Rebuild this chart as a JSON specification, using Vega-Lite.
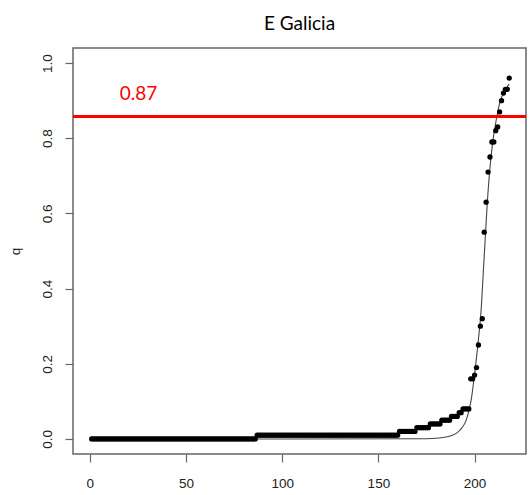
{
 "$schema": "https://vega.github.io/schema/vega-lite/v6.json",
 "width": 453, "height": 406,
 "autosize": {"type": "none"},
 "padding": {"left": 73, "top": 48, "right": 6, "bottom": 41},
 "background": "white",
 "title": {"text": "E Galicia", "font": "Lato", "fontSize": 19, "fontWeight": "normal", "color": "#000", "anchor": "middle", "baseline": "alphabetic", "offset": 20, "dy": 21},
 "config": {
  "view": {"stroke": "#666", "strokeWidth": 1.5},
  "axis": {"grid": false, "domain": false, "tickColor": "#666", "tickWidth": 1.2, "tickSize": 8, "labelFont": "Liberation Sans", "labelFontSize": 13.5, "labelColor": "#222", "titleFont": "Liberation Sans", "titleFontSize": 13.5, "titleFontWeight": "normal", "titleColor": "#222"}
 },
 "datasets": {
  "pts": [
   {"x":1,"q":0},{"x":2,"q":0},{"x":3,"q":0},{"x":4,"q":0},{"x":5,"q":0},{"x":6,"q":0},{"x":7,"q":0},{"x":8,"q":0},{"x":9,"q":0},{"x":10,"q":0},
   {"x":11,"q":0},{"x":12,"q":0},{"x":13,"q":0},{"x":14,"q":0},{"x":15,"q":0},{"x":16,"q":0},{"x":17,"q":0},{"x":18,"q":0},{"x":19,"q":0},{"x":20,"q":0},
   {"x":21,"q":0},{"x":22,"q":0},{"x":23,"q":0},{"x":24,"q":0},{"x":25,"q":0},{"x":26,"q":0},{"x":27,"q":0},{"x":28,"q":0},{"x":29,"q":0},{"x":30,"q":0},
   {"x":31,"q":0},{"x":32,"q":0},{"x":33,"q":0},{"x":34,"q":0},{"x":35,"q":0},{"x":36,"q":0},{"x":37,"q":0},{"x":38,"q":0},{"x":39,"q":0},{"x":40,"q":0},
   {"x":41,"q":0},{"x":42,"q":0},{"x":43,"q":0},{"x":44,"q":0},{"x":45,"q":0},{"x":46,"q":0},{"x":47,"q":0},{"x":48,"q":0},{"x":49,"q":0},{"x":50,"q":0},
   {"x":51,"q":0},{"x":52,"q":0},{"x":53,"q":0},{"x":54,"q":0},{"x":55,"q":0},{"x":56,"q":0},{"x":57,"q":0},{"x":58,"q":0},{"x":59,"q":0},{"x":60,"q":0},
   {"x":61,"q":0},{"x":62,"q":0},{"x":63,"q":0},{"x":64,"q":0},{"x":65,"q":0},{"x":66,"q":0},{"x":67,"q":0},{"x":68,"q":0},{"x":69,"q":0},{"x":70,"q":0},
   {"x":71,"q":0},{"x":72,"q":0},{"x":73,"q":0},{"x":74,"q":0},{"x":75,"q":0},{"x":76,"q":0},{"x":77,"q":0},{"x":78,"q":0},{"x":79,"q":0},{"x":80,"q":0},
   {"x":81,"q":0},{"x":82,"q":0},{"x":83,"q":0},{"x":84,"q":0},{"x":85,"q":0},{"x":86,"q":0},{"x":87,"q":0.01},{"x":88,"q":0.01},{"x":89,"q":0.01},{"x":90,"q":0.01},
   {"x":91,"q":0.01},{"x":92,"q":0.01},{"x":93,"q":0.01},{"x":94,"q":0.01},{"x":95,"q":0.01},{"x":96,"q":0.01},{"x":97,"q":0.01},{"x":98,"q":0.01},{"x":99,"q":0.01},{"x":100,"q":0.01},
   {"x":101,"q":0.01},{"x":102,"q":0.01},{"x":103,"q":0.01},{"x":104,"q":0.01},{"x":105,"q":0.01},{"x":106,"q":0.01},{"x":107,"q":0.01},{"x":108,"q":0.01},{"x":109,"q":0.01},{"x":110,"q":0.01},
   {"x":111,"q":0.01},{"x":112,"q":0.01},{"x":113,"q":0.01},{"x":114,"q":0.01},{"x":115,"q":0.01},{"x":116,"q":0.01},{"x":117,"q":0.01},{"x":118,"q":0.01},{"x":119,"q":0.01},{"x":120,"q":0.01},
   {"x":121,"q":0.01},{"x":122,"q":0.01},{"x":123,"q":0.01},{"x":124,"q":0.01},{"x":125,"q":0.01},{"x":126,"q":0.01},{"x":127,"q":0.01},{"x":128,"q":0.01},{"x":129,"q":0.01},{"x":130,"q":0.01},
   {"x":131,"q":0.01},{"x":132,"q":0.01},{"x":133,"q":0.01},{"x":134,"q":0.01},{"x":135,"q":0.01},{"x":136,"q":0.01},{"x":137,"q":0.01},{"x":138,"q":0.01},{"x":139,"q":0.01},{"x":140,"q":0.01},
   {"x":141,"q":0.01},{"x":142,"q":0.01},{"x":143,"q":0.01},{"x":144,"q":0.01},{"x":145,"q":0.01},{"x":146,"q":0.01},{"x":147,"q":0.01},{"x":148,"q":0.01},{"x":149,"q":0.01},{"x":150,"q":0.01},
   {"x":151,"q":0.01},{"x":152,"q":0.01},{"x":153,"q":0.01},{"x":154,"q":0.01},{"x":155,"q":0.01},{"x":156,"q":0.01},{"x":157,"q":0.01},{"x":158,"q":0.01},{"x":159,"q":0.01},{"x":160,"q":0.01},
   {"x":161,"q":0.02},{"x":162,"q":0.02},{"x":163,"q":0.02},{"x":164,"q":0.02},{"x":165,"q":0.02},{"x":166,"q":0.02},{"x":167,"q":0.02},{"x":168,"q":0.02},{"x":169,"q":0.02},
   {"x":170,"q":0.03},{"x":171,"q":0.03},{"x":172,"q":0.03},{"x":173,"q":0.03},{"x":174,"q":0.03},{"x":175,"q":0.03},{"x":176,"q":0.03},
   {"x":177,"q":0.04},{"x":178,"q":0.04},{"x":179,"q":0.04},{"x":180,"q":0.04},{"x":181,"q":0.04},{"x":182,"q":0.04},
   {"x":183,"q":0.05},{"x":184,"q":0.05},{"x":185,"q":0.05},{"x":186,"q":0.05},{"x":187,"q":0.05},
   {"x":188,"q":0.06},{"x":189,"q":0.06},{"x":190,"q":0.06},{"x":191,"q":0.06},
   {"x":192,"q":0.07},{"x":193,"q":0.07},
   {"x":194,"q":0.08},{"x":195,"q":0.08},{"x":196,"q":0.08},{"x":197,"q":0.08},
   {"x":198,"q":0.16},{"x":199,"q":0.16},{"x":200,"q":0.17},{"x":201,"q":0.19},{"x":202,"q":0.25},{"x":203,"q":0.30},{"x":204,"q":0.32},
   {"x":205,"q":0.55},{"x":206,"q":0.63},{"x":207,"q":0.71},{"x":208,"q":0.75},{"x":209,"q":0.79},{"x":210,"q":0.79},{"x":211,"q":0.82},
   {"x":212,"q":0.83},{"x":213,"q":0.87},{"x":214,"q":0.90},{"x":215,"q":0.92},{"x":216,"q":0.93},{"x":217,"q":0.93},{"x":218,"q":0.96}
  ],
  "curve": [
   {"x":1,"q":0},{"x":100,"q":0},{"x":170,"q":0.0005},{"x":180,"q":0.002},{"x":185,"q":0.005},{"x":188,"q":0.009},{"x":191,"q":0.017},
   {"x":193.5,"q":0.03},{"x":195.5,"q":0.048},{"x":197,"q":0.075},{"x":198.3,"q":0.106},{"x":199.7,"q":0.16},{"x":201.7,"q":0.25},
   {"x":203.5,"q":0.35},{"x":204.7,"q":0.46},{"x":205.5,"q":0.53},{"x":206.5,"q":0.62},{"x":207.8,"q":0.71},{"x":209.3,"q":0.785},
   {"x":211.3,"q":0.85},{"x":213,"q":0.893},{"x":215.6,"q":0.926},{"x":218,"q":0.944}
  ]
 },
 "encoding": {
  "x": {"field": "x", "type": "quantitative", "scale": {"domain": [-8.72, 226.72], "nice": false, "zero": false},
        "axis": {"values": [0, 50, 100, 150, 200], "title": null, "labelPadding": 14}},
  "y": {"field": "q", "type": "quantitative", "scale": {"domain": [-0.04, 1.04], "nice": false, "zero": false},
        "axis": {"values": [0, 0.2, 0.4, 0.6, 0.8, 1.0], "format": ".1f", "labelAngle": -90, "labelPadding": 11, "title": "q", "titlePadding": 18}}
 },
 "layer": [
  {"data": {"name": "curve"}, "mark": {"type": "line", "color": "#444", "strokeWidth": 1.1, "interpolate": "monotone"}},
  {"data": {"name": "pts"}, "mark": {"type": "circle", "color": "#000", "opacity": 1, "size": 28}},
  {"data": {"values": [{"q": 0.858}]}, "mark": {"type": "rule", "color": "#ff0000", "strokeWidth": 3},
   "encoding": {"x": null, "y": {"field": "q", "type": "quantitative"}}},
  {"data": {"values": [{"x": 25.3, "q": 0.918, "label": "0.87"}]},
   "mark": {"type": "text", "color": "#ff0000", "font": "Lato", "fontSize": 19, "align": "center", "baseline": "middle"},
   "encoding": {"text": {"field": "label"}}}
 ]
}
